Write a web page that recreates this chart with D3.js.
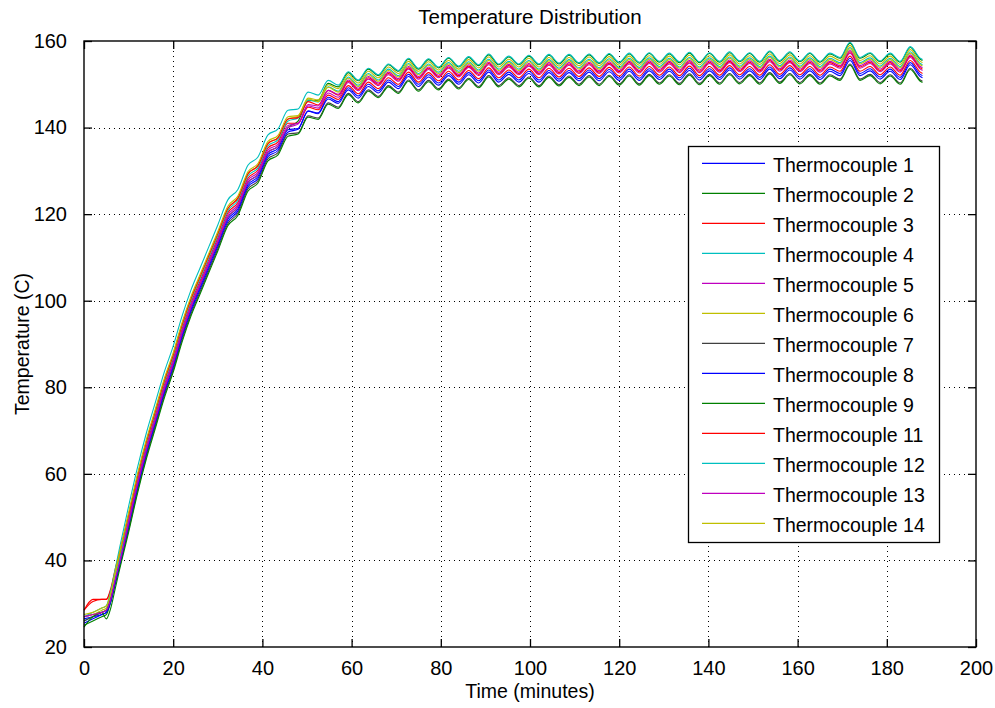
<!DOCTYPE html>
<html>
<head>
<meta charset="utf-8">
<script src="https://cdn.jsdelivr.net/npm/d3@7"></script>
<style>
  html, body { margin: 0; padding: 0; background: #fff; }
  svg { display: block; font-family: "Liberation Sans", Arial, Helvetica, sans-serif; }
</style>
</head>
<body>
<svg id="chart" width="995" height="708"></svg>
<script>
// Sample times (minutes)
const minutes = [0,2,4,5,6,7,8,10,12,14,16,18,20,22,24,26,28,
  30,32.25,34.5,36.75,39,41.25,43.5,45.75,48,50.25,52.5,54.75,57,59.25,61.5,63.75,66,68.25,70.5,72.75,
  75,77.25,79.5,81.75,84,86.25,88.5,90.75,93,95.25,97.5,99.75,102,104.25,106.5,108.75,111,113.25,115.5,117.75,
  120,122.25,124.5,126.75,129,131.25,133.5,135.75,138,140.25,142.5,144.75,147,149.25,151.5,153.75,156,158.25,
  160.5,162.75,165,167.25,169.5,171.75,174,176.25,178.5,180.75,183,185.25,187.5,188];

// Temperature readings (C) per thermocouple
const tc1 = [26.5,27,27.5,28,30.5,34.5,38.5,
  47.5,56.5,64.5,71.5,78.5,84.5,91.5,97.5,102.5,107.5,112.5,118.3,120.7,126.3,128.2,133.3,134.7,139,139.6,143.8,143.4,147,146,
  149.2,147.3,150,148.5,151,149.5,152.3,150,152.2,150.3,152.5,150.5,152.7,150.8,153.3,151,152.8,151,153,151,153.2,151.2,153.2,151.3,153.3,151.3,153.4,151.4,153.5,151.4,153.6,151.6,153.5,151.5,153.7,151.5,153.6,151.6,153.8,151.7,153.6,151.6,154,151.8,153.8,151.7,153.6,151.6,153.5,152.5,156,152.5,153.6,151.7,153.5,151.6,155,152.3,
  152];
const tc2 = [25,26,27,27.5,30.5,35,39.5,
  48.5,57.5,65.5,72.5,79.5,85.5,92.5,98.5,103.5,108.5,113.5,119.3,121.7,127.3,129.2,134.3,135.7,140,141.5,146.2,146.3,150.2,149.4,
  152.7,150.8,153.5,152,154.5,153,155.8,153.5,155.7,153.8,156,154,156.2,154.3,156.8,154.5,156.3,154.5,156.5,154.5,156.7,154.7,156.7,154.8,156.8,154.8,156.9,154.9,157,154.9,157.1,155.1,157,155,157.2,155,157.1,155.1,157.3,155.2,157.1,155.1,157.5,155.3,157.3,155.2,157.1,155.1,157,156,159.5,156,157.1,155.2,157,155.1,158.5,155.8,
  155.5];
const tc3 = [28.5,31,31,31,33,37,41,
  49.5,58.5,66.5,73.5,80.5,86.5,93.5,99.5,104.5,109.5,114.5,120.3,122.7,128.3,130.2,135.3,136.7,141,141,144.7,144.1,147.5,146.5,
  149.7,147.8,150.5,149,151.5,150,152.8,150.5,152.7,150.8,153,151,153.2,151.3,153.8,151.5,153.3,151.5,153.5,151.5,153.7,151.7,153.7,151.8,153.8,151.8,153.9,151.9,154,151.9,154.1,152.1,154,152,154.2,152,154.1,152.1,154.3,152.2,154.1,152.1,154.5,152.3,154.3,152.2,154.1,152.1,154,153,156.5,153,154.1,152.2,154,152.1,155.5,152.8,
  152.5];
const tc4 = [26,27,28,28.5,31.5,36,40.5,
  50,59,67,74,81,87,94,100,105,110,115,120.8,123.2,128.8,130.7,135.8,137.2,141.5,142.2,146.4,145.9,149.4,148.4,
  151.7,149.8,152.5,151,153.5,152,154.8,152.5,154.7,152.8,155,153,155.2,153.3,155.8,153.5,155.3,153.5,155.5,153.5,155.7,153.7,155.7,153.8,155.8,153.8,155.9,153.9,156,153.9,156.1,154.1,156,154,156.2,154,156.1,154.1,156.3,154.2,156.1,154.1,156.5,154.3,156.3,154.2,156.1,154.1,156,155,158.5,155,156.1,154.2,156,154.1,157.5,154.8,
  154.5];
const tc5 = [27,27.5,28,28.5,31.5,35.5,39.5,
  49,58,66,73,80,86,93,99,104,109,114,119.8,122.2,127.8,129.7,134.8,136.2,140.5,141,145,144.5,148,147,
  150.4,148.5,151.2,149.7,152.2,150.7,153.5,151.2,153.4,151.5,153.7,151.7,153.9,152,154.5,152.2,154,152.2,154.2,152.2,154.4,152.4,154.4,152.5,154.5,152.5,154.6,152.6,154.7,152.6,154.8,152.8,154.7,152.7,154.9,152.7,154.8,152.8,155,152.9,154.8,152.8,155.2,153,155,152.9,154.8,152.8,154.7,153.7,157.2,153.7,154.8,152.9,154.7,152.8,156.2,153.5,
  153.2];
const tc6 = [27,27.5,28.5,29,32.5,37,41.5,
  50.5,59.5,67.5,74.5,81.5,87.5,94.5,100.5,105.5,110.5,115.5,121.3,123.7,129.3,131.2,136.3,137.7,142,142.6,146.8,146.4,149.9,149,
  152.2,150.3,153,151.5,154,152.5,155.3,153,155.2,153.3,155.5,153.5,155.7,153.8,156.3,154,155.8,154,156,154,156.2,154.2,156.2,154.3,156.3,154.3,156.4,154.4,156.5,154.4,156.6,154.6,156.5,154.5,156.7,154.5,156.6,154.6,156.8,154.7,156.6,154.6,157,154.8,156.8,154.7,156.6,154.6,156.5,155.5,159,155.5,156.6,154.7,156.5,154.6,158,155.3,
  155];
const tc7 = [26,27,28,28.5,31,35,39,
  47,56,64,71,78,84,91,97,102,107,112,117.8,120.2,125.8,127.7,132.8,134.2,138.5,138.8,142.7,142.2,145.7,144.7,
  147.9,146,148.7,147.2,149.7,148.2,151,148.7,150.9,149,151.2,149.2,151.4,149.5,152,149.7,151.5,149.7,151.7,149.7,151.9,149.9,151.9,150,152,150,152.1,150.1,152.2,150.1,152.3,150.3,152.2,150.2,152.4,150.2,152.3,150.3,152.5,150.4,152.3,150.3,152.7,150.5,152.5,150.4,152.3,150.3,152.2,151.2,154.7,151.2,152.3,150.4,152.2,150.3,153.7,151,
  150.7];
const tc8 = [25.5,26.5,27.5,28,30.5,35,39,
  48,57,65,72,79,85,92,98,103,108,113,118.8,121.2,126.8,128.7,133.8,135.2,139.5,139.8,143.8,143.2,146.6,145.6,
  148.7,146.8,149.5,148,150.5,149,151.8,149.5,151.7,149.8,152,150,152.2,150.3,152.8,150.5,152.3,150.5,152.5,150.5,152.7,150.7,152.7,150.8,152.8,150.8,152.9,150.9,153,150.9,153.1,151.1,153,151,153.2,151,153.1,151.1,153.3,151.2,153.1,151.1,153.5,151.3,153.3,151.2,153.1,151.1,153,152,155.5,152,153.1,151.2,153,151.1,154.5,151.8,
  151.5];
const tc9 = [24.6,27,28,26.5,29,33.5,38,
  46.5,55.5,63.5,70.5,77.5,83.5,90.5,96.5,101.5,106.5,111.5,117.3,119.7,125.3,127.2,132.3,133.7,138,138.5,142.4,141.9,145.4,144.4,
  147.6,145.7,148.4,146.9,149.4,147.9,150.7,148.4,150.6,148.7,150.9,148.9,151.1,149.2,151.7,149.4,151.2,149.4,151.4,149.4,151.6,149.6,151.6,149.7,151.7,149.7,151.8,149.8,151.9,149.8,152,150,151.9,149.9,152.1,149.9,152,150,152.2,150.1,152,150,152.4,150.2,152.2,150.1,152,150,151.9,150.9,154.4,150.9,152,150.1,151.9,150,153.4,150.7,
  150.4];
const tc11 = [28.5,30.5,31,31,33.5,38,42,
  50.5,59.5,67.5,74.5,81.5,87.5,94.5,100.5,105.5,110.5,115.5,121.3,123.7,129.3,131.2,136.3,137.7,142,142.3,146,145.2,148.6,147.5,
  150.7,148.8,151.5,150,152.5,151,153.8,151.5,153.7,151.8,154,152,154.2,152.3,154.8,152.5,154.3,152.5,154.5,152.5,154.7,152.7,154.7,152.8,154.8,152.8,154.9,152.9,155,152.9,155.1,153.1,155,153,155.2,153,155.1,153.1,155.3,153.2,155.1,153.1,155.5,153.3,155.3,153.2,155.1,153.1,155,154,157.5,154,155.1,153.2,155,153.1,156.5,153.8,
  153.5];
const tc12 = [27,28,29,29.5,33,38,43,
  52.5,61.5,69.5,76.5,83.5,89.5,96.5,102.5,107.5,112.5,117.5,123.3,125.7,131.3,133.2,138.3,139.7,144,144.3,148.2,147.5,150.9,149.8,
  152.9,151,153.7,152.2,154.7,153.2,156,153.7,155.9,154,156.2,154.2,156.4,154.5,157,154.7,156.5,154.7,156.7,154.7,156.9,154.9,156.9,155,157,155,157.1,155.1,157.2,155.1,157.3,155.3,157.2,155.2,157.4,155.2,157.3,155.3,157.5,155.4,157.3,155.3,157.7,155.5,157.5,155.4,157.3,155.3,157.2,156.2,159.7,156.2,157.3,155.4,157.2,155.3,158.7,156,
  155.7];
const tc13 = [27,27.5,28,28.5,31,35.5,39.5,
  48.5,57.5,65.5,72.5,79.5,85.5,92.5,98.5,103.5,108.5,113.5,119.3,121.7,127.3,129.2,134.3,135.7,140,140.8,145.3,145,148.6,147.7,
  151,149.1,151.8,150.3,152.8,151.3,154.1,151.8,154,152.1,154.3,152.3,154.5,152.6,155.1,152.8,154.6,152.8,154.8,152.8,155,153,155,153.1,155.1,153.1,155.2,153.2,155.3,153.2,155.4,153.4,155.3,153.3,155.5,153.3,155.4,153.4,155.6,153.5,155.4,153.4,155.8,153.6,155.6,153.5,155.4,153.4,155.3,154.3,157.8,154.3,155.4,153.5,155.3,153.4,156.8,154.1,
  153.8];
const tc14 = [27.5,28,29,29.5,32.5,37.5,42,
  51,60,68,75,82,88,95,101,106,111,116,121.8,124.2,129.8,131.7,136.8,138.2,142.5,142.8,146.6,146,149.3,148.2,
  151.4,149.5,152.2,150.7,153.2,151.7,154.5,152.2,154.4,152.5,154.7,152.7,154.9,153,155.5,153.2,155,153.2,155.2,153.2,155.4,153.4,155.4,153.5,155.5,153.5,155.6,153.6,155.7,153.6,155.8,153.8,155.7,153.7,155.9,153.7,155.8,153.8,156,153.9,155.8,153.8,156.2,154,156,153.9,155.8,153.8,155.7,154.7,158.2,154.7,155.8,153.9,155.7,153.8,157.2,154.5,
  154.2];

const seriesNames = ["Thermocouple 1","Thermocouple 2","Thermocouple 3","Thermocouple 4","Thermocouple 5",
  "Thermocouple 6","Thermocouple 7","Thermocouple 8","Thermocouple 9","Thermocouple 11",
  "Thermocouple 12","Thermocouple 13","Thermocouple 14"];
const seriesValues = [tc1, tc2, tc3, tc4, tc5, tc6, tc7, tc8, tc9, tc11, tc12, tc13, tc14];

const xTicks = [0,20,40,60,80,100,120,140,160,180,200];
const yTicks = [20,40,60,80,100,120,140,160];

const titleText = "Temperature Distribution";
const xLabelText = "Time (minutes)";
const yLabelText = "Temperature (C)";

// MATLAB-style line color cycle
const colorCycle = ["#0000ff","#008000","#ff0000","#00bfbf","#bf00bf","#bfbf00","#404040"];

// ---- layout ----
const W = 995, H = 708;
const plot = { left: 84, top: 41, right: 976, bottom: 647 };

const svg = d3.select("#chart");
svg.append("rect").attr("width", W).attr("height", H).attr("fill", "#fff");

const x = d3.scaleLinear().domain([0, 200]).range([plot.left, plot.right]);
const y = d3.scaleLinear().domain([20, 160]).range([plot.bottom, plot.top]);

// dotted grid
const grid = svg.append("g").attr("stroke", "#000").attr("stroke-width", 1)
  .attr("stroke-dasharray", "1,4").attr("shape-rendering", "crispEdges");
grid.selectAll("line.gx").data(xTicks.filter(d => d > 0 && d < 200)).join("line")
  .attr("class", "gx")
  .attr("x1", d => Math.round(x(d)) + 0.5).attr("x2", d => Math.round(x(d)) + 0.5)
  .attr("y1", plot.top).attr("y2", plot.bottom);
grid.selectAll("line.gy").data(yTicks.filter(d => d > 20 && d < 160)).join("line")
  .attr("class", "gy")
  .attr("x1", plot.left).attr("x2", plot.right)
  .attr("y1", d => Math.round(y(d)) + 0.5).attr("y2", d => Math.round(y(d)) + 0.5);

// data lines
const line = d3.line()
  .curve(d3.curveMonotoneX)
  .x(d => x(d[0]))
  .y(d => y(d[1]));

const linesG = svg.append("g").attr("fill", "none").attr("stroke-width", 1.1)
  .attr("stroke-linejoin", "round");
seriesValues.forEach((vals, i) => {
  const n = Math.min(minutes.length, vals.length);
  const pts = d3.range(n).map(k => [minutes[k], vals[k]]);
  linesG.append("path")
    .datum(pts)
    .attr("stroke", colorCycle[i % colorCycle.length])
    .attr("d", line);
});

// axes (inward ticks, boxed)
const tickLen = 8;
const fontTick = "20px";
const axB = svg.append("g").attr("transform", `translate(0,${plot.bottom})`)
  .call(d3.axisBottom(x).tickValues(xTicks).tickSize(-tickLen).tickPadding(tickLen + 6).tickFormat(d3.format("d")));
const axT = svg.append("g").attr("transform", `translate(0,${plot.top})`)
  .call(d3.axisTop(x).tickValues(xTicks).tickSize(-tickLen).tickFormat(""));
const axL = svg.append("g").attr("transform", `translate(${plot.left},0)`)
  .call(d3.axisLeft(y).tickValues(yTicks).tickSize(-tickLen).tickPadding(tickLen + 9).tickFormat(d3.format("d")));
const axR = svg.append("g").attr("transform", `translate(${plot.right},0)`)
  .call(d3.axisRight(y).tickValues(yTicks).tickSize(-tickLen).tickFormat(""));

[axB, axT, axL, axR].forEach(g => {
  g.select(".domain").remove();
  g.selectAll(".tick line").attr("stroke", "#000").attr("stroke-width", 1.3);
  g.selectAll(".tick text").attr("fill", "#000")
    .style("font-size", fontTick)
    .style("font-family", '"Liberation Sans", Arial, sans-serif');
});

// plot frame
svg.append("rect")
  .attr("x", plot.left).attr("y", plot.top)
  .attr("width", plot.right - plot.left).attr("height", plot.bottom - plot.top)
  .attr("fill", "none").attr("stroke", "#000").attr("stroke-width", 1.4);

// title and axis labels
svg.append("text").attr("x", (plot.left + plot.right) / 2).attr("y", 24)
  .attr("text-anchor", "middle").style("font-size", "20.5px").attr("fill", "#000")
  .text(titleText);
svg.append("text").attr("x", (plot.left + plot.right) / 2).attr("y", 698)
  .attr("text-anchor", "middle").style("font-size", "19.5px").attr("fill", "#000")
  .text(xLabelText);
svg.append("text")
  .attr("transform", `translate(29,${(plot.top + plot.bottom) / 2}) rotate(-90)`)
  .attr("text-anchor", "middle").style("font-size", "19.5px").attr("fill", "#000")
  .text(yLabelText);

// legend
const leg = { x: 688, y: 146, w: 251, h: 396, row0: 163.3, step: 30 };
const legG = svg.append("g");
legG.append("rect")
  .attr("x", leg.x + 0.5).attr("y", leg.y + 0.5).attr("width", leg.w).attr("height", leg.h)
  .attr("fill", "#fff").attr("stroke", "#000").attr("stroke-width", 1.3);
const items = legG.selectAll("g.item").data(seriesNames).join("g")
  .attr("class", "item")
  .attr("transform", (d, i) => `translate(0,${leg.row0 + i * leg.step})`);
items.append("line")
  .attr("x1", 702).attr("x2", 765).attr("y1", 0).attr("y2", 0)
  .attr("stroke", (d, i) => colorCycle[i % colorCycle.length]).attr("stroke-width", 1.2);
items.append("text")
  .attr("x", 773).attr("y", 8.5)
  .style("font-size", "19.5px").attr("fill", "#000")
  .text(d => d);
</script>
</body>
</html>
